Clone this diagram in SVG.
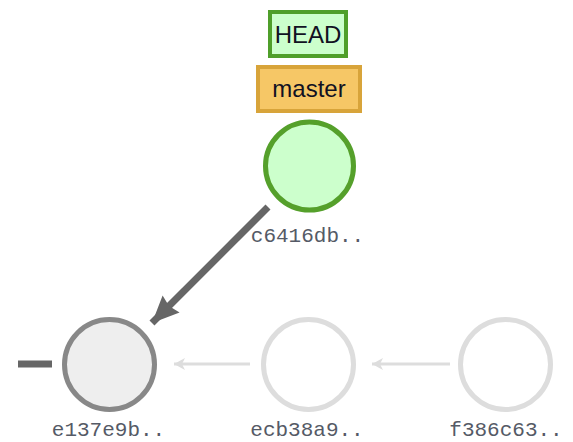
<svg xmlns="http://www.w3.org/2000/svg" width="573" height="442" viewBox="0 0 573 442">
<style>
.lbl{font-family:"Liberation Mono","Courier New",monospace;font-size:21px;fill:#555a66;text-anchor:middle}
.ref{font-family:"Liberation Sans",Arial,sans-serif;font-size:24px;fill:#111122;text-anchor:middle}
</style>
<defs>
<marker id="bigHead" markerUnits="userSpaceOnUse" markerWidth="30" markerHeight="30" viewBox="-28 -14 30 28" refX="0" refY="0" orient="auto">
<path d="M0,0 L-27,-12 L-24,0 L-27,12 Z" fill="#666666"/>
</marker>
<marker id="smallHead" markerUnits="userSpaceOnUse" markerWidth="14" markerHeight="14" viewBox="-12 -7 14 14" refX="0" refY="0" orient="auto">
<path d="M0,0 L-11,-6 L-8,0 L-11,6 Z" fill="#dddddd"/>
</marker>
</defs>
<g id="connectors">
<line x1="18" y1="364" x2="52" y2="364" stroke="#666666" stroke-width="7"/>
<line x1="268" y1="207" x2="152" y2="323" stroke="#666666" stroke-width="7" marker-end="url(#bigHead)"/>
<line x1="250" y1="364" x2="174" y2="364" stroke="#dddddd" stroke-width="3" marker-end="url(#smallHead)"/>
<line x1="450" y1="364" x2="372" y2="364" stroke="#dddddd" stroke-width="3" marker-end="url(#smallHead)"/>
</g>
<g id="HEAD">
<rect x="270" y="12" width="76" height="44" fill="#ccffcc" stroke="#4f9f2a" stroke-width="4"/>
<text class="ref" x="308" y="43">HEAD</text>
</g>
<g id="master">
<rect x="258" y="67" width="102" height="44" fill="#f6c766" stroke="#d8a43a" stroke-width="4"/>
<text class="ref" x="309" y="97">master</text>
</g>
<g id="c6416db">
<circle cx="309.5" cy="166" r="44" fill="#ccffcc" stroke="#55a02b" stroke-width="5"/>
<text class="lbl" x="307.5" y="242">c6416db..</text>
</g>
<g id="e137e9b">
<circle cx="109.5" cy="364.5" r="45" fill="#eeeeee" stroke="#888888" stroke-width="5"/>
<text class="lbl" x="108.5" y="436">e137e9b..</text>
</g>
<g id="ecb38a9">
<circle cx="308.5" cy="364.5" r="45" fill="#ffffff" stroke="#dddddd" stroke-width="5"/>
<text class="lbl" x="307" y="436">ecb38a9..</text>
</g>
<g id="f386c63">
<circle cx="505.5" cy="364.5" r="45" fill="#ffffff" stroke="#dddddd" stroke-width="5"/>
<text class="lbl" x="506" y="436">f386c63..</text>
</g>
</svg>
